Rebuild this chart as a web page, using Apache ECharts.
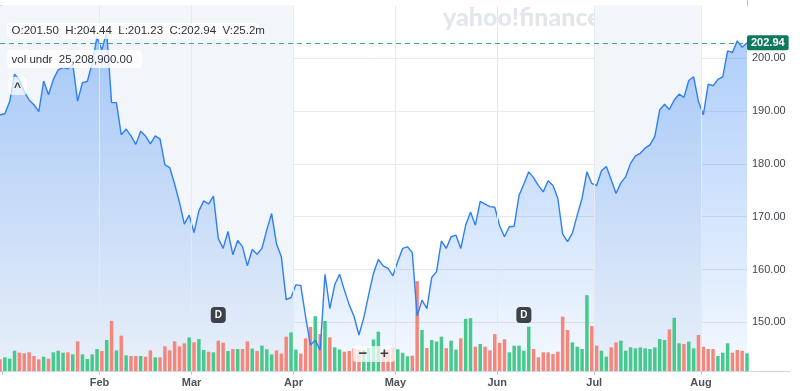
<!DOCTYPE html>
<html><head><meta charset="utf-8">
<script src="https://cdn.jsdelivr.net/npm/echarts@6/dist/echarts.min.js"></script>
<style>html,body{margin:0;padding:0;background:#fff}#c{width:800px;height:391px}</style>
</head><body><div id="c"></div>
<script>
// Daily closes, Dec 31 2024 .. Aug 14 2025 (one per trading day)
const closes = [
189.3,189.5,191.8,197.0,195.9,193.7,192.1,191.2,189.9,195.7,
193.1,196.0,197.8,198.3,198.0,198.9,191.9,195.4,195.6,199.1,
204.0,201.6,205.0,191.6,191.6,185.5,186.6,185.3,183.7,186.2,
185.3,183.8,185.3,184.7,179.8,179.3,176.2,172.7,168.6,170.3,
167.0,171.1,173.0,172.4,173.9,165.9,164.0,167.2,162.8,165.5,
164.3,160.7,163.8,162.9,164.0,167.5,170.6,164.9,162.4,154.3,
154.7,157.1,157.0,151.1,145.7,146.6,144.7,159.1,152.6,157.1,
159.1,156.1,153.3,151.1,147.6,150.9,155.2,159.3,161.9,160.7,
160.2,158.8,161.5,164.0,164.3,163.2,151.2,154.2,152.6,158.5,
159.6,165.4,164.0,166.2,166.5,164.0,168.4,170.9,168.4,172.9,
172.4,171.9,171.8,168.3,166.2,168.1,168.2,174.0,176.2,178.5,
177.4,175.9,174.7,176.8,175.9,173.5,166.7,165.3,166.9,170.3,
173.5,178.5,176.3,175.9,178.7,179.5,177.0,174.4,176.4,177.6,
180.1,181.5,182.0,183.0,183.6,185.2,190.2,191.3,190.3,192.1,
193.2,192.6,195.8,196.5,191.8,189.3,195.1,194.8,196.0,196.5,
201.4,201.1,203.3,202.1,202.94
];
// Daily volume, millions
const volumes = [
16.6,19.5,17.6,28.9,26.1,25.2,26.6,21.4,16.6,20.4,
17.6,26.6,28.9,26.1,26.6,23.7,42.2,23.7,17.1,23.7,
31.3,28.5,44.1,71.2,29.4,50.3,22.3,21.4,21.4,21.4,
20.4,29.4,19.5,19.5,35.1,29.4,42.2,35.1,39.4,47.9,
40.8,45.6,29.9,27.5,26.6,43.2,40.3,28.5,31.3,31.3,
31.3,42.2,32.0,28.5,36.1,31.0,23.7,29.4,24.7,48.9,
55.1,30.4,24.7,46.5,62.9,78.0,52.7,71.2,47.9,33.7,
30.6,27.5,28.5,32.3,29.9,30.0,33.0,45.0,56.0,27.0,
30.9,33.7,30.9,26.0,21.0,21.8,128.0,58.4,32.8,44.1,
42.0,48.9,32.5,43.2,30.4,46.5,74.3,75.3,34.6,38.4,
34.6,29.4,52.5,40.0,45.1,26.6,36.1,36.1,28.9,63.1,
31.3,19.5,26.6,26.6,24.2,27.5,77.4,58.4,40.8,34.6,
31.3,108.0,64.1,36.1,28.9,20.4,33.7,40.8,43.2,28.9,
33.7,32.3,33.7,32.3,31.3,33.7,45.6,44.1,59.3,75.9,
39.4,38.4,41.8,32.3,51.3,34.6,31.3,31.3,21.4,26.1,
39.4,26.1,29.9,28.9,25.21
];
// volume bar direction (u = up / green, d = down / red)
const volDir =
"duuudddddu"+"duuududuuu"+"ududududdu"+"dduddddddu"+"duududdudu"+
"dduduuuddd"+"uudddududu"+"udddduuuud"+"dduuuddudu"+"uuduuduudu"+
"ddddduuuuu"+"dddddddduu"+"uudduudduu"+"uuuuuuuudu"+"uduudddduu"+"udddu";
const monthNames = ['Jan','Feb','Mar','Apr','May','Jun','Jul','Aug'];
const monthStart = [1,21,40,61,82,103,123,145]; // index of first trading day of each month
const shadedMonths = [['Jan','Apr'],['Jul','Aug']];
const priceTicks = [150,160,170,180,190,200];
const dividendIdx = [45,108];
const lastClose = 202.94;
const lastVolLabel = '25.21M';
const headerText = 'O:201.50  H:204.44  L:201.23  C:202.94  V:25.2m';
const volUnderText = 'vol undr  25,208,900.00';

const UP = '#46c98c', DOWN = '#f4877c';
const boundary = m => monthStart[monthNames.indexOf(m)] - 0.5;
const labelVals = monthStart.slice(1).map(s => s - 0.5);
const tickVals = monthStart.map(s => s - 0.5);

const chart = echarts.init(document.getElementById('c'));
const FONT = '"Liberation Sans", Arial, sans-serif';
chart.setOption({
  animation: false,
  backgroundColor: '#fff',
  grid: {left: 0, right: 53, top: 5.5, bottom: 20, containLabel: false},
  xAxis: {
    type: 'value', min: 0, max: closes.length - 1,
    axisLine: {show: true, lineStyle: {color: '#d3d7dc'}},
    axisTick: {show: true, customValues: tickVals, length: 4, lineStyle: {color: '#c3c8ce'}},
    axisLabel: {customValues: labelVals, color: '#4b535b', fontSize: 11, fontWeight: 'bold', fontFamily: FONT, margin: 6,
      formatter: v => { const k = monthStart.indexOf(Math.round(v + 0.5)); return k >= 0 ? monthNames[k] : ''; }},
    splitLine: {show: false}
  },
  yAxis: [{
    type: 'value', position: 'right', min: 140.78, max: 210, splitNumber: 7,
    axisLine: {show: true, lineStyle: {color: '#b7bcc2'}},
    axisTick: {show: true, length: 3, lineStyle: {color: '#b7bcc2'}},
    axisLabel: {color: '#40474f', fontSize: 11, fontFamily: FONT, margin: 5,
      formatter: v => priceTicks.includes(v) ? v.toFixed(2) : ''},
    splitLine: {show: true, showMinLine: false, showMaxLine: false, lineStyle: {color: '#e6e9ed'}}
  }, {
    type: 'value', min: 0, max: 520.6, show: false
  }],
  series: [{
    type: 'line', z: 0, silent: true, data: [[0, null]], symbol: 'none',
    markArea: {silent: true, itemStyle: {color: '#f2f5f9'},
      data: shadedMonths.map(([a, b]) => [{xAxis: a === 'Jan' ? 0 : boundary(a)}, {xAxis: boundary(b)}])},
    markLine: {silent: true, symbol: 'none', label: {show: false},
      lineStyle: {color: '#e6e9ed', width: 1, type: 'solid'},
      data: labelVals.map(v => ({xAxis: v}))}
  }, {
    type: 'line', z: 1, silent: true, symbol: 'none', yAxisIndex: 0,
    data: closes.map((v, i) => [i, v]),
    lineStyle: {width: 0},
    areaStyle: {color: new echarts.graphic.LinearGradient(0, 35, 0, 371, [
      {offset: 0, color: 'rgba(47,130,245,0.56)'}, {offset: 1, color: 'rgba(47,130,245,0.07)'}], true)}
  }, {
    type: 'bar', z: 2, silent: true, yAxisIndex: 1, barWidth: 3.5,
    data: volumes.map((v, i) => ({value: [i, v], itemStyle: {color: volDir[i] === 'u' ? UP : DOWN}})),
    markLine: {silent: true, symbol: 'none', lineStyle: {opacity: 0},
      label: {show: true, position: 'end', distance: 0, formatter: lastVolLabel, color: '#3c4249',
        backgroundColor: '#c9cdd2', fontSize: 10.5, fontFamily: FONT, padding: [5, 4, 4, 4], borderRadius: 2},
      data: [{yAxis: volumes[volumes.length - 1]}]}
  }, {
    type: 'line', z: 3, silent: true, symbol: 'none', yAxisIndex: 0,
    data: closes.map((v, i) => [i, v]),
    lineStyle: {color: '#2f7ff3', width: 1.4},
    markLine: {silent: true, symbol: 'none',
      lineStyle: {color: '#3fa88a', width: 1, type: [5, 4]},
      label: {show: true, position: 'end', distance: 0, formatter: lastClose.toFixed(2), color: '#fff',
        backgroundColor: '#0f7a5b', fontSize: 11, fontWeight: 'bold', fontFamily: FONT, padding: [2, 4, 2, 4], borderRadius: 2},
      data: [{yAxis: lastClose}]},
    markPoint: {silent: true, symbol: 'roundRect', symbolSize: [15, 16],
      itemStyle: {color: '#3d4248'},
      label: {show: true, formatter: 'D', color: '#fff', fontSize: 10, fontWeight: 'bold', fontFamily: FONT},
      data: dividendIdx.map(i => ({coord: [i, 151.38]}))}
  }],
  graphic: [
    {type: 'text', x: 443, y: 18, z: 1, silent: true,
      style: {text: 'yahoo!finance', fill: '#e2e7ec', font: '900 25px Lato, sans-serif', verticalAlign: 'middle'}},
    {type: 'line', silent: true, shape: {x1: 747, y1: 371.5, x2: 790, y2: 371.5}, style: {stroke: '#d3d7dc', lineWidth: 1}},
    {type: 'line', silent: true, shape: {x1: 747.5, y1: 0, x2: 747.5, y2: 6}, style: {stroke: '#b7bcc2', lineWidth: 1}},
    {type: 'rect', z: 50, silent: true, shape: {x: 7, y: 23, width: 252, height: 16, r: 4}, style: {fill: 'rgba(255,255,255,0.82)'}},
    {type: 'text', z: 51, silent: true, x: 11.5, y: 31,
      style: {text: headerText, fill: '#2e3236', font: '11.5px ' + FONT, verticalAlign: 'middle'}},
    {type: 'rect', z: 50, silent: true, shape: {x: 7, y: 50, width: 135, height: 18, r: 4}, style: {fill: 'rgba(255,255,255,0.82)'}},
    {type: 'text', z: 51, silent: true, x: 11.5, y: 59.5,
      style: {text: volUnderText, fill: '#2e3236', font: '11.5px ' + FONT, verticalAlign: 'middle'}},
    {type: 'rect', z: 50, silent: true, shape: {x: 8, y: 77, width: 19, height: 18, r: 4}, style: {fill: 'rgba(255,255,255,0.7)'}},
    {type: 'text', z: 51, silent: true, x: 17.5, y: 88,
      style: {text: '^', fill: '#3a3f45', font: 'bold 12px ' + FONT, align: 'center', verticalAlign: 'middle'}},
    {type: 'rect', z: 50, silent: true, shape: {x: 353, y: 346, width: 42, height: 16, r: 3}, style: {fill: 'rgba(255,255,255,0.72)'}},
    {type: 'text', z: 51, silent: true, x: 363, y: 354,
      style: {text: '−', fill: '#3a3f45', font: 'bold 15px ' + FONT, align: 'center', verticalAlign: 'middle'}},
    {type: 'text', z: 51, silent: true, x: 384.5, y: 354,
      style: {text: '+', fill: '#3a3f45', font: 'bold 15px ' + FONT, align: 'center', verticalAlign: 'middle'}}
  ]
});
</script></body></html>
